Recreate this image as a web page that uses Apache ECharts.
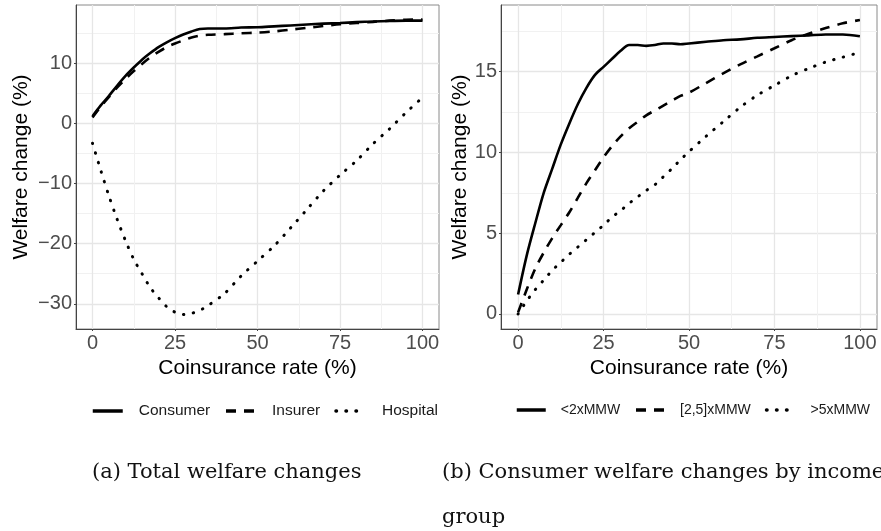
<!DOCTYPE html>
<html>
<head>
<meta charset="utf-8">
<script src="https://cdn.jsdelivr.net/npm/echarts@6/dist/echarts.min.js"></script>
<style>
html,body{margin:0;padding:0;background:#fff;}
#chart{width:881px;height:531px;}
</style>
</head>
<body>
<div id="chart"></div>
<script>
// ---- Data ----
const xRate = [0, 2.5, 5, 7.5, 10, 12.5, 15, 17.5, 20, 22.5, 25, 27.5, 30, 32.5, 35, 40, 45, 50, 55, 60, 65, 70, 75, 80, 85, 90, 95, 100];
const consumer = [1.2, 3.0, 4.6, 6.3, 7.9, 9.3, 10.6, 11.7, 12.7, 13.5, 14.2, 14.8, 15.3, 15.7, 15.8, 15.8, 15.95, 16.0, 16.15, 16.3, 16.45, 16.6, 16.7, 16.85, 16.95, 17.05, 17.1, 17.1];
const insurer = [1.0, 2.8, 4.4, 6.0, 7.4, 8.7, 9.9, 11.0, 11.9, 12.7, 13.3, 13.8, 14.3, 14.6, 14.75, 14.85, 15.0, 15.1, 15.3, 15.6, 15.9, 16.2, 16.5, 16.7, 16.9, 17.1, 17.25, 17.3];
const hospital = [-3.3, -7.8, -12.1, -16.0, -19.5, -22.6, -25.0, -27.3, -29.0, -30.5, -31.4, -31.8, -31.6, -31.1, -30.3, -28.3, -25.4, -22.9, -20.4, -17.4, -14.3, -11.2, -8.6, -6.2, -3.4, -0.9, 1.8, 4.3];

const xRateB = [0, 2.5, 5, 7.5, 10, 12.5, 15, 17.5, 20, 22.5, 25, 27.5, 30, 32.5, 35, 37.5, 40, 42.5, 45, 47.5, 50, 55, 60, 65, 70, 75, 80, 85, 90, 95, 100];
const lowIncome = [1.2, 3.6, 5.6, 7.5, 9.0, 10.5, 11.8, 13.0, 14.0, 14.8, 15.3, 15.8, 16.3, 16.65, 16.65, 16.6, 16.65, 16.75, 16.75, 16.7, 16.75, 16.85, 16.95, 17.0, 17.1, 17.15, 17.2, 17.25, 17.3, 17.3, 17.2];
const midIncome = [0.1, 1.5, 2.8, 3.8, 4.7, 5.5, 6.3, 7.2, 8.1, 8.9, 9.7, 10.4, 11.0, 11.5, 11.9, 12.3, 12.6, 12.9, 13.2, 13.5, 13.7, 14.3, 14.9, 15.45, 15.95, 16.45, 16.95, 17.35, 17.7, 18.0, 18.2];
const highIncome = [0.0, 0.8, 1.5, 2.1, 2.7, 3.2, 3.7, 4.15, 4.6, 5.05, 5.5, 6.0, 6.4, 6.85, 7.25, 7.65, 8.0, 8.5, 9.0, 9.55, 10.05, 11.0, 11.9, 12.8, 13.55, 14.15, 14.75, 15.2, 15.6, 15.9, 16.2];

const xTicks = [0, 25, 50, 75, 100];
const xMinorTicks = [12.5, 37.5, 62.5, 87.5];
const yTicksA = [-30, -20, -10, 0, 10];
const yMinorA = [-25, -15, -5, 5, 15];
const yTicksB = [0, 5, 10, 15];
const yMinorB = [2.5, 7.5, 12.5, 17.5];

const namesA = ['Consumer', 'Insurer', 'Hospital'];
const namesB = ['<2xMMW', '[2,5]xMMW', '>5xMMW'];

// ---- Helpers ----
const zip = (xs, ys) => xs.map((x, i) => [x, ys[i]]);
const labelColor = '#4D4D4D';
const axisColor = '#444';
const majorGrid = '#E6E6E6';
const minorGrid = '#F1F1F1';

function xAxes(gridIndex) {
  return [
    { // minor grid
      type: 'value', gridIndex, min: -5, max: 105, position: 'bottom',
      axisLine: { show: false }, axisLabel: { show: false },
      axisTick: { show: false, customValues: xMinorTicks },
      splitLine: { show: true, lineStyle: { color: minorGrid, width: 1 } }
    },
    {
      type: 'value', gridIndex, min: -5, max: 105, position: 'bottom',
      name: 'Coinsurance rate (%)', nameLocation: 'middle', nameGap: 25,
      nameTextStyle: { color: '#000', fontSize: 21, fontFamily: 'Liberation Sans' },
      axisLine: { show: true, onZero: false, lineStyle: { color: axisColor, width: 1 } },
      axisTick: { show: true, length: 2, customValues: xTicks, lineStyle: { color: axisColor } },
      axisLabel: { customValues: xTicks, color: labelColor, fontSize: 20, margin: 4, fontFamily: 'Liberation Sans' },
      splitLine: { show: true, lineStyle: { color: majorGrid, width: 1.3 } }
    }
  ];
}
function yAxes(gridIndex, min, max, ticks, minor, gap) {
  return [
    {
      type: 'value', gridIndex, min, max, position: 'left',
      axisLine: { show: false }, axisLabel: { show: false },
      axisTick: { show: false, customValues: minor },
      splitLine: { show: true, lineStyle: { color: minorGrid, width: 1 } }
    },
    {
      type: 'value', gridIndex, min, max, position: 'left',
      name: 'Welfare change (%)', nameLocation: 'middle', nameGap: gap,
      nameTextStyle: { color: '#000', fontSize: 21, fontFamily: 'Liberation Sans' },
      axisLine: { show: true, onZero: false, lineStyle: { color: axisColor, width: 1 } },
      axisTick: { show: true, length: 2, customValues: ticks, lineStyle: { color: axisColor } },
      axisLabel: { customValues: ticks, color: labelColor, fontSize: 20, margin: 4, fontFamily: 'Liberation Sans',
        formatter: v => (v < 0 ? '\u2212' + Math.abs(v) : String(v)) },
      splitLine: { show: true, lineStyle: { color: majorGrid, width: 1.3 } }
    }
  ];
}

const styles = [
  { type: 'solid' },
  { type: [10, 8] },
  { type: [0.5, 9.5], cap: 'round' }
];

function mkSeries(name, xs, ys, idx, axisIdx) {
  return {
    type: 'line', name, data: zip(xs, ys),
    xAxisIndex: axisIdx, yAxisIndex: axisIdx,
    showSymbol: false, symbol: 'none', smooth: 0.3,
    lineStyle: Object.assign({ color: '#000', width: idx === 2 ? 3 : 2.6 }, styles[idx]),
    itemStyle: { color: 'rgba(0,0,0,0)' },
    silent: true, animation: false
  };
}

const chart = echarts.init(document.getElementById('chart'), null, { renderer: 'canvas' });
const option = {
  backgroundColor: '#fff',
  animation: false,
  grid: [
    { left: 76, right: 881 - 439, top: 5, bottom: 531 - 329, show: true, borderColor: '#8A8A8A', borderWidth: 1, backgroundColor: 'transparent' },
    { left: 501, right: 881 - 877, top: 5, bottom: 531 - 329, show: true, borderColor: '#8A8A8A', borderWidth: 1, backgroundColor: 'transparent' }
  ],
  xAxis: [...xAxes(0), ...xAxes(1)],
  yAxis: [...yAxes(0, -34.2, 19.7, yTicksA, yMinorA, 44), ...yAxes(1, -0.93, 19.13, yTicksB, yMinorB, 30)],
  legend: [
    {
      data: namesA, left: 91, top: 403, orient: 'horizontal', padding: 0,
      itemWidth: 30, itemHeight: 16, itemGap: 14,
      lineStyle: { width: 3.5 },
      itemStyle: { opacity: 0 },
      textStyle: { fontSize: 15.5, color: '#1a1a1a', fontFamily: 'Liberation Sans', padding: [0, 0, 0, 11] }
    },
    {
      data: namesB, left: 515, top: 403, orient: 'horizontal', padding: 0, width: 366,
      itemWidth: 29, itemHeight: 16, itemGap: 14,
      lineStyle: { width: 3.5 },
      itemStyle: { opacity: 0 },
      textStyle: { fontSize: 14, color: '#1a1a1a', fontFamily: 'Liberation Sans', padding: [0, 0, 0, 10] }
    }
  ],
  series: [
    mkSeries(namesA[0], xRate, consumer, 0, 1),
    mkSeries(namesA[1], xRate, insurer, 1, 1),
    mkSeries(namesA[2], xRate, hospital, 2, 1),
    mkSeries(namesB[0], xRateB, lowIncome, 0, 3),
    mkSeries(namesB[1], xRateB, midIncome, 1, 3),
    mkSeries(namesB[2], xRateB, highIncome, 2, 3)
  ],
  graphic: [
    { type: 'text', left: 92, top: 462, style: { text: '(a) Total welfare changes', font: '21px "DejaVu Serif"', fill: '#111' } },
    { type: 'text', left: 442, top: 462, style: { text: '(b) Consumer welfare changes by income', font: '21px "DejaVu Serif"', fill: '#111' } },
    { type: 'text', left: 442, top: 507, style: { text: 'group', font: '21px "DejaVu Serif"', fill: '#111' } }
  ]
};
chart.setOption(option);
</script>
</body>
</html>
